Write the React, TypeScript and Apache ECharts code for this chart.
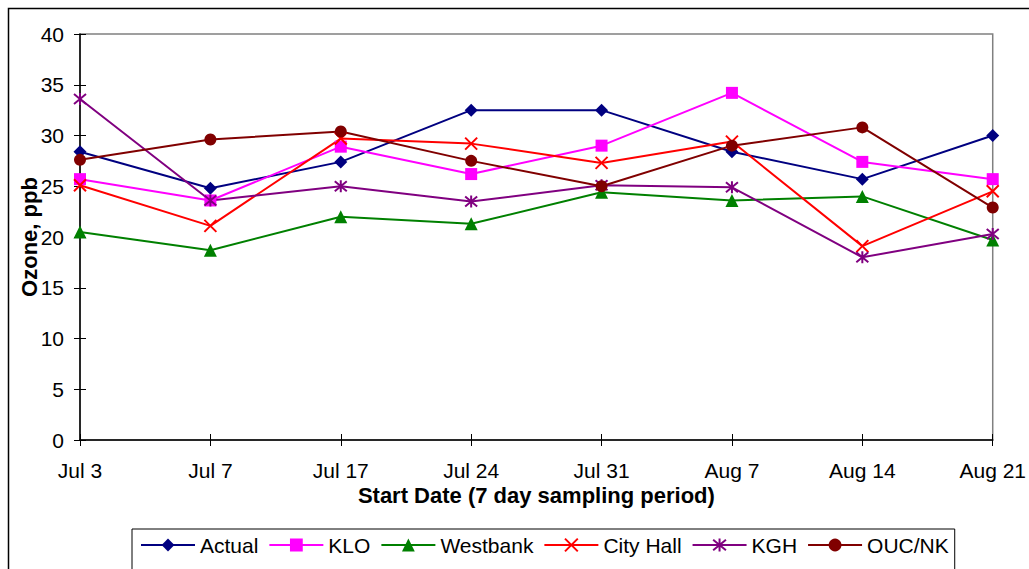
import React, { useEffect, useRef } from "react";
import * as echarts from "echarts";

// Weekly ozone sampling, start date of each 7-day period
const categories = ["Jul 3", "Jul 7", "Jul 17", "Jul 24", "Jul 31", "Aug 7", "Aug 14", "Aug 21"];

// Ozone concentrations (ppb) per site
const actual = [28.4, 24.8, 27.4, 32.5, 32.5, 28.4, 25.7, 30.0];
const klo = [25.7, 23.6, 28.9, 26.2, 29.0, 34.2, 27.4, 25.7];
const westbank = [20.5, 18.7, 22.0, 21.3, 24.4, 23.6, 24.0, 19.7];
const cityHall = [25.1, 21.1, 29.7, 29.2, 27.3, 29.4, 19.1, 24.5];
const kgh = [33.6, 23.6, 25.0, 23.5, 25.1, 24.9, 18.0, 20.3];
const oucNk = [27.6, 29.6, 30.4, 27.5, 25.0, 29.0, 30.8, 22.9];

const yMin = 0;
const yMax = 40;
const yStep = 5;

const FONT = "'Liberation Sans', Arial, sans-serif";

const crossSymbol = "path://M0,0L10,10M0,10L10,0";
const starSymbol = "path://M0,0L10,10M0,10L10,0M5,-1L5,11";

type SeriesDef = {
  name: string;
  data: number[];
  color: string;
  symbol: string;
  size: number;
  stroked?: boolean;
};

const seriesDefs: SeriesDef[] = [
  { name: "Actual", data: actual, color: "#000080", symbol: "diamond", size: 13 },
  { name: "KLO", data: klo, color: "#FF00FF", symbol: "rect", size: 12 },
  { name: "Westbank", data: westbank, color: "#008000", symbol: "triangle", size: 13 },
  { name: "City Hall", data: cityHall, color: "#FF0000", symbol: crossSymbol, size: 12, stroked: true },
  { name: "KGH", data: kgh, color: "#800080", symbol: starSymbol, size: 12, stroked: true },
  { name: "OUC/NK", data: oucNk, color: "#800000", symbol: "circle", size: 12 },
];

export default function App() {
  const ref = useRef<HTMLDivElement>(null);

  useEffect(() => {
    if (!ref.current) return;
    const chart = echarts.init(ref.current, undefined, { renderer: "svg" });

    const tickLabel = { color: "#000", fontFamily: FONT, fontSize: 21 };

    chart.setOption({
      animation: false,
      backgroundColor: "#fff",
      grid: {
        left: 80,
        top: 34,
        right: 36,
        bottom: 129,
        show: true,
        backgroundColor: "#fff",
        borderColor: "#808080",
        borderWidth: 1.5,
      },
      legend: {
        left: 132,
        top: 529,
        padding: [5, 6, 40, 8],
        itemWidth: 54,
        itemHeight: 16,
        itemGap: 10,
        borderColor: "#000",
        borderWidth: 1,
        borderRadius: 0,
        backgroundColor: "#fff",
        textStyle: { color: "#000", fontFamily: FONT, fontSize: 21, lineHeight: 22 },
        data: seriesDefs.map((s) => s.name),
      },
      xAxis: [
        {
          type: "category",
          data: categories,
          boundaryGap: false,
          name: "Start Date (7 day sampling period)",
          nameLocation: "middle",
          nameGap: 44,
          nameMoveOverlap: false,
          nameTextStyle: { color: "#000", fontFamily: FONT, fontSize: 22, fontWeight: "bold" },
          axisLine: { lineStyle: { color: "#000", width: 1.5 } },
          axisTick: { show: true, inside: false, length: 6, alignWithLabel: true, lineStyle: { color: "#000", width: 1 } },
          axisLabel: { ...tickLabel, margin: 20, interval: 0 },
          splitLine: { show: false },
        },
        {
          type: "category",
          data: categories,
          boundaryGap: false,
          position: "bottom",
          axisLine: { show: false },
          axisTick: { show: true, inside: true, length: 6, lineStyle: { color: "#000", width: 1 } },
          axisLabel: { show: false },
          splitLine: { show: false },
        },
      ],
      yAxis: [
        {
          type: "value",
          min: yMin,
          max: yMax,
          interval: yStep,
          name: "Ozone, ppb",
          nameLocation: "middle",
          nameRotate: 90,
          nameGap: 40,
          nameMoveOverlap: false,
          nameTextStyle: { color: "#000", fontFamily: FONT, fontSize: 22, fontWeight: "bold" },
          axisLine: { show: true, lineStyle: { color: "#000", width: 1.5 } },
          axisTick: { show: true, inside: false, length: 6, lineStyle: { color: "#000", width: 1 } },
          axisLabel: { ...tickLabel, margin: 16 },
          splitLine: { show: false },
        },
        {
          type: "value",
          min: yMin,
          max: yMax,
          interval: yStep,
          position: "left",
          axisLine: { show: false },
          axisTick: { show: true, inside: true, length: 6, lineStyle: { color: "#000", width: 1 } },
          axisLabel: { show: false },
          splitLine: { show: false },
        },
      ],
      series: seriesDefs.map((s) => ({
        name: s.name,
        type: "line",
        xAxisIndex: 0,
        yAxisIndex: 0,
        data: s.data,
        symbol: s.symbol,
        symbolSize: s.size,
        showAllSymbol: true,
        lineStyle: { color: s.color, width: 2 },
        itemStyle: s.stroked
          ? { color: s.color, borderColor: s.color, borderWidth: 2 }
          : { color: s.color, borderColor: s.color, borderWidth: 0 },
        emphasis: { disabled: true },
      })),
      graphic: [
        {
          type: "rect",
          silent: true,
          z: -10,
          shape: { x: 8.5, y: 8.5, width: 1200, height: 800 },
          style: { fill: "none", stroke: "#000", lineWidth: 1.5 },
        },
      ],
    });

    return () => chart.dispose();
  }, []);

  return (
    <div
      ref={ref}
      style={{ position: "fixed", left: 0, top: 0, width: 1029, height: 569, background: "#fff" }}
    />
  );
}
